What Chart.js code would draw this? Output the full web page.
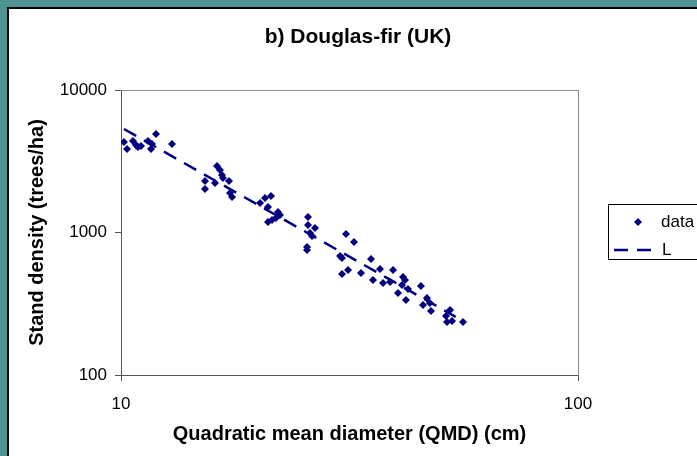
<!DOCTYPE html>
<html>
<head>
<meta charset="utf-8">
<title>b) Douglas-fir (UK)</title>
<script src="https://cdn.jsdelivr.net/npm/chart.js@4.4.1/dist/chart.umd.min.js"></script>
<style>
  html, body { margin: 0; padding: 0; }
  body { width: 697px; height: 456px; background: #4f9292; overflow: hidden; position: relative; }
  .frame {
    position: absolute; left: 7px; top: 7px; width: 700px; height: 460px;
    background: #fff; border-left: 2px solid #000; border-top: 2px solid #000;
  }
  #chart { display: block; }
</style>
</head>
<body>
<div class="frame">
  <canvas id="chart" width="688" height="447"></canvas>
</div>
<script>
// stand measurements: quadratic mean diameter (cm) and stand density (trees/ha)
const qmd = [
  10.15, 10.31, 10.62, 10.78, 10.89, 11.06, 11.46, 11.63, 11.69, 11.93, 12.93,
  15.27, 15.27, 16.06, 16.22, 16.47, 16.63, 16.72, 17.23, 17.32, 17.50,
  20.15, 20.66, 20.97, 21.29, 20.97, 21.40, 21.83, 22.05, 22.28,
  25.66, 25.66, 26.58, 25.92, 26.18, 25.53, 25.53,
  31.07, 32.35, 30.15, 30.45, 31.39, 30.45, 33.51, 35.24, 36.88, 35.60, 37.44,
  39.38, 38.79, 41.41, 41.82, 41.20, 42.46, 40.38, 42.03,
  45.33, 46.72, 45.79, 47.40, 47.68, 52.48, 51.43, 51.68, 53.01, 56.03
];
const density = [
  4317, 3855, 4387, 4112, 3981, 4046, 4387, 3855, 4180, 4912, 4180,
  2298, 2020, 2225, 2930, 2746, 2532, 2413, 2298, 1893, 1775,
  1611, 1746, 1510, 1803, 1185, 1224, 1264, 1393, 1327,
  1285, 1129, 1075, 992, 945, 791, 754,
  976, 858, 684, 662, 546, 512, 520, 652, 554, 464, 442,
  546, 450, 487, 464, 428, 401, 376, 336,
  421, 347, 310, 320, 281, 286, 259, 235, 239, 235
];

// fitted limit line L (end points)
const lineQmd = [10.15, 54];
const lineDensity = [5325, 256];

const xTicks = [10, 100];
const yTicks = [100, 1000, 10000];

const FONT = "'Liberation Sans', Arial, sans-serif";
const NAVY = '#000080';

const points = qmd.map((d, i) => ({ x: d, y: density[i] }));
const linePts = lineQmd.map((d, i) => ({ x: d, y: lineDensity[i] }));

// top/right edges of the plot area
const plotFrame = {
  id: 'plotFrame',
  beforeDatasetsDraw(chart) {
    const { ctx, chartArea: a } = chart;
    ctx.save();
    ctx.strokeStyle = '#8c8c8c';
    ctx.lineWidth = 1;
    ctx.beginPath();
    ctx.moveTo(Math.round(a.left) + 0.5, Math.round(a.top) + 0.5);
    ctx.lineTo(Math.round(a.right) + 0.5, Math.round(a.top) + 0.5);
    ctx.lineTo(Math.round(a.right) + 0.5, Math.round(a.bottom) + 0.5);
    ctx.stroke();
    ctx.restore();
  }
};

// chart heading
const heading = {
  id: 'heading',
  afterDraw(chart) {
    const { ctx } = chart;
    ctx.save();
    ctx.font = 'bold 21px ' + FONT;
    ctx.fillStyle = '#000';
    ctx.textAlign = 'center';
    ctx.textBaseline = 'middle';
    ctx.fillText('b) Douglas-fir (UK)', 349, 28);
    ctx.restore();
  }
};

// boxed legend to the right of the plot
const boxLegend = {
  id: 'boxLegend',
  afterDraw(chart) {
    const { ctx } = chart;
    const ds = chart.data.datasets;
    const left = 599, top = 195, bottom = 250;
    ctx.save();
    ctx.strokeStyle = '#000';
    ctx.lineWidth = 1;
    ctx.strokeRect(left + 0.5, top + 0.5, 120, bottom - top);

    ctx.font = '17px ' + FONT;
    ctx.textAlign = 'left';
    ctx.textBaseline = 'middle';

    // data marker
    ctx.fillStyle = ds[1].backgroundColor;
    ctx.beginPath();
    ctx.moveTo(629, 209); ctx.lineTo(633, 213); ctx.lineTo(629, 217); ctx.lineTo(625, 213);
    ctx.closePath();
    ctx.fill();
    ctx.fillStyle = '#000';
    ctx.fillText(ds[1].label, 652, 213);

    // dashed line sample
    ctx.strokeStyle = ds[0].borderColor;
    ctx.lineWidth = ds[0].borderWidth;
    ctx.setLineDash(ds[0].borderDash);
    ctx.beginPath();
    ctx.moveTo(605, 241); ctx.lineTo(645, 241);
    ctx.stroke();
    ctx.setLineDash([]);
    ctx.fillText(ds[0].label, 653, 241);
    ctx.restore();
  }
};

const ctx = document.getElementById('chart').getContext('2d');
new Chart(ctx, {
  type: 'scatter',
  data: {
    datasets: [
      {
        label: 'L',
        data: linePts,
        showLine: true,
        borderColor: NAVY,
        borderWidth: 2.5,
        borderDash: [14, 9],
        pointRadius: 0,
        order: 0
      },
      {
        label: 'data',
        data: points,
        pointStyle: 'rectRot',
        pointRadius: 4,
        backgroundColor: NAVY,
        borderColor: NAVY,
        borderWidth: 0,
        order: 1
      }
    ]
  },
  options: {
    responsive: false,
    animation: false,
    layout: { padding: { left: 0, top: 81, right: 119, bottom: 0 } },
    plugins: {
      legend: { display: false },
      tooltip: { enabled: false }
    },
    scales: {
      x: {
        type: 'logarithmic',
        min: 10,
        max: 100,
        afterBuildTicks: s => { s.ticks = xTicks.map(v => ({ value: v })); },
        afterFit: s => { s.height = 81; },
        ticks: {
          color: '#000',
          font: { family: FONT, size: 17 },
          padding: 13,
          maxRotation: 0,
          autoSkip: false,
          callback: v => String(v)
        },
        grid: { drawOnChartArea: false, drawTicks: true, tickLength: 6, color: '#555' },
        border: { color: '#555', width: 1 },
        title: {
          display: true,
          text: 'Quadratic mean diameter (QMD) (cm)',
          color: '#000',
          font: { family: FONT, size: 20, weight: 'bold' },
          padding: { top: 0, bottom: 10 }
        }
      },
      y: {
        type: 'logarithmic',
        min: 100,
        max: 10000,
        afterBuildTicks: s => { s.ticks = yTicks.map(v => ({ value: v })); },
        afterFit: s => { s.width = 112; },
        ticks: {
          color: '#000',
          font: { family: FONT, size: 17 },
          padding: 8,
          autoSkip: false,
          callback: v => String(v)
        },
        grid: { drawOnChartArea: false, drawTicks: true, tickLength: 6, color: '#555' },
        border: { color: '#555', width: 1 },
        title: {
          display: true,
          text: 'Stand density (trees/ha)',
          color: '#000',
          font: { family: FONT, size: 20, weight: 'bold' },
          padding: { top: 16, bottom: 0 }
        }
      }
    }
  },
  plugins: [plotFrame, heading, boxLegend]
});
</script>
</body>
</html>
